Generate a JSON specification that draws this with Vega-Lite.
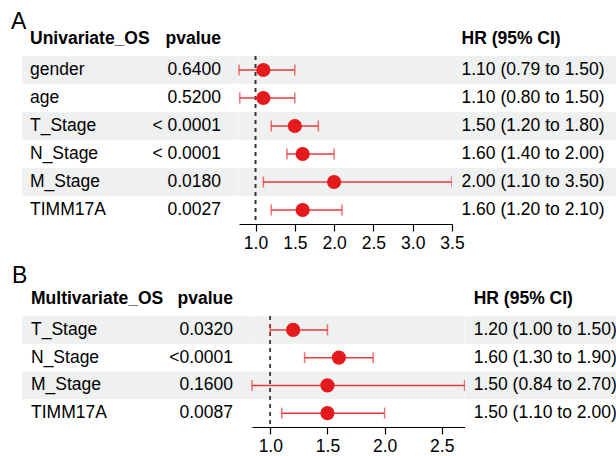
{
  "$schema": "https://vega.github.io/schema/vega-lite/v6.json",
  "padding": {"left": 11, "top": 10, "right": 0, "bottom": 0},
  "background": "white",
  "config": {
    "view": {"stroke": null},
    "font": "Liberation Sans",
    "title": {"color": "black", "fontSize": 17.5, "fontWeight": "bold"}
  },
  "datasets": {
    "uni": [
      {"var": "gender", "p": "0.6400", "hr": 1.1, "low": 0.79, "high": 1.5, "ci": "1.10 (0.79 to 1.50)"},
      {"var": "age", "p": "0.5200", "hr": 1.1, "low": 0.8, "high": 1.5, "ci": "1.10 (0.80 to 1.50)"},
      {"var": "T_Stage", "p": "< 0.0001", "hr": 1.5, "low": 1.2, "high": 1.8, "ci": "1.50 (1.20 to 1.80)"},
      {"var": "N_Stage", "p": "< 0.0001", "hr": 1.6, "low": 1.4, "high": 2.0, "ci": "1.60 (1.40 to 2.00)"},
      {"var": "M_Stage", "p": "0.0180", "hr": 2.0, "low": 1.1, "high": 3.5, "ci": "2.00 (1.10 to 3.50)"},
      {"var": "TIMM17A", "p": "0.0027", "hr": 1.6, "low": 1.2, "high": 2.1, "ci": "1.60 (1.20 to 2.10)"}
    ],
    "multi": [
      {"var": "T_Stage", "p": "0.0320", "hr": 1.2, "low": 1.0, "high": 1.5, "ci": "1.20 (1.00 to 1.50)"},
      {"var": "N_Stage", "p": "<0.0001", "hr": 1.6, "low": 1.3, "high": 1.9, "ci": "1.60 (1.30 to 1.90)"},
      {"var": "M_Stage", "p": "0.1600", "hr": 1.5, "low": 0.84, "high": 2.7, "ci": "1.50 (0.84 to 2.70)"},
      {"var": "TIMM17A", "p": "0.0087", "hr": 1.5, "low": 1.1, "high": 2.0, "ci": "1.50 (1.10 to 2.00)"}
    ]
  },
  "vconcat": [
    {
      "title": {"text": "A", "anchor": "start", "fontSize": 23, "fontWeight": "normal", "dx": -11, "offset": -4},
      "bounds": "flush",
      "spacing": 0,
      "hconcat": [
        {
          "width": 110, "height": 168,
          "title": {"text": "Univariate_OS", "anchor": "start", "dx": 8, "offset": 9},
          "data": {"name": "uni"},
          "layer": [
            {"transform": [{"filter": {"field": "var", "oneOf": ["gender", "T_Stage", "M_Stage"]}}],
             "mark": {"type": "rect", "color": "#EFF0F0"},
             "encoding": {"y": {"field": "var", "type": "nominal", "axis": null, "scale": {"type": "band", "paddingInner": 0, "paddingOuter": 0, "domain": ["gender", "age", "T_Stage", "N_Stage", "M_Stage", "TIMM17A"]}}, "x": {"value": 0}, "x2": {"value": "width"}}},
            {"mark": {"type": "text", "align": "left", "dx": 8, "fontSize": 17.5, "color": "black"},
             "encoding": {"y": {"field": "var", "type": "nominal"}, "x": {"value": 0}, "text": {"field": "var"}}}
          ]
        },
        {
          "width": 106.5, "height": 168,
          "title": {"text": "pvalue", "anchor": "end", "dx": -17.5, "offset": 9},
          "data": {"name": "uni"},
          "layer": [
            {"transform": [{"filter": {"field": "var", "oneOf": ["gender", "T_Stage", "M_Stage"]}}],
             "mark": {"type": "rect", "color": "#EFF0F0"},
             "encoding": {"y": {"field": "var", "type": "nominal", "axis": null, "scale": {"type": "band", "paddingInner": 0, "paddingOuter": 0, "domain": ["gender", "age", "T_Stage", "N_Stage", "M_Stage", "TIMM17A"]}}, "x": {"value": 0}, "x2": {"value": "width"}}},
            {"mark": {"type": "text", "align": "right", "dx": -17.5, "fontSize": 17.5, "color": "black"},
             "encoding": {"y": {"field": "var", "type": "nominal"}, "x": {"value": "width"}, "text": {"field": "p"}}}
          ]
        },
        {
          "width": 213, "height": 168,
          "data": {"name": "uni"},
          "layer": [
            {"transform": [{"filter": {"field": "var", "oneOf": ["gender", "T_Stage", "M_Stage"]}}],
             "mark": {"type": "rect", "color": "#EFF0F0"},
             "encoding": {"y": {"field": "var", "type": "nominal", "axis": null, "scale": {"type": "band", "paddingInner": 0, "paddingOuter": 0, "domain": ["gender", "age", "T_Stage", "N_Stage", "M_Stage", "TIMM17A"]}}, "x": {"value": 0}, "x2": {"value": "width"}}},
            {"mark": {"type": "rule", "strokeDash": [4, 4], "color": "#333333", "strokeWidth": 1.2},
             "encoding": {"x": {"datum": 1, "type": "quantitative", "scale": {"domain": [0.79, 3.5], "nice": false, "zero": false},
               "axis": {"values": [1, 1.5, 2, 2.5, 3, 3.5], "format": ".1f", "title": null, "grid": false, "labelFontSize": 17.5, "labelColor": "black", "tickColor": "black", "domainColor": "black", "tickSize": 7, "labelPadding": 3, "domainWidth": 1.2, "tickWidth": 1.2, "labelFlush": false}}}},
            {"mark": {"type": "rule", "color": "#E8383D", "strokeWidth": 1.5},
             "encoding": {"y": {"field": "var", "type": "nominal"}, "x": {"field": "low", "type": "quantitative"}, "x2": {"field": "high"}}},
            {"mark": {"type": "tick", "color": "#E8383D", "thickness": 1.5, "size": 11},
             "encoding": {"y": {"field": "var", "type": "nominal"}, "x": {"field": "low", "type": "quantitative"}}},
            {"mark": {"type": "tick", "color": "#E8383D", "thickness": 1.5, "size": 11},
             "encoding": {"y": {"field": "var", "type": "nominal"}, "x": {"field": "high", "type": "quantitative"}}},
            {"mark": {"type": "circle", "color": "#E41A1C", "opacity": 1, "size": 200},
             "encoding": {"y": {"field": "var", "type": "nominal"}, "x": {"field": "hr", "type": "quantitative"}}}
          ]
        },
        {
          "width": 164.5, "height": 168,
          "title": {"text": "HR (95% CI)", "anchor": "start", "dx": 9.5, "offset": 9},
          "data": {"name": "uni"},
          "layer": [
            {"transform": [{"filter": {"field": "var", "oneOf": ["gender", "T_Stage", "M_Stage"]}}],
             "mark": {"type": "rect", "color": "#EFF0F0"},
             "encoding": {"y": {"field": "var", "type": "nominal", "axis": null, "scale": {"type": "band", "paddingInner": 0, "paddingOuter": 0, "domain": ["gender", "age", "T_Stage", "N_Stage", "M_Stage", "TIMM17A"]}}, "x": {"value": 0}, "x2": {"value": "width"}}},
            {"mark": {"type": "text", "align": "left", "dx": 9.5, "fontSize": 17.5, "color": "black"},
             "encoding": {"y": {"field": "var", "type": "nominal"}, "x": {"value": 0}, "text": {"field": "ci"}}}
          ]
        }
      ]
    },
    {
      "title": {"text": "B", "anchor": "start", "fontSize": 23, "fontWeight": "normal", "dx": -10, "offset": 2},
      "bounds": "flush",
      "spacing": 0,
      "hconcat": [
        {
          "width": 120, "height": 111,
          "title": {"text": "Multivariate_OS", "anchor": "start", "dx": 9, "offset": 9},
          "data": {"name": "multi"},
          "layer": [
            {"transform": [{"filter": {"field": "var", "oneOf": ["T_Stage", "M_Stage"]}}],
             "mark": {"type": "rect", "color": "#EFF0F0"},
             "encoding": {"y": {"field": "var", "type": "nominal", "axis": null, "scale": {"type": "band", "paddingInner": 0, "paddingOuter": 0, "domain": ["T_Stage", "N_Stage", "M_Stage", "TIMM17A"]}}, "x": {"value": 0}, "x2": {"value": "width"}}},
            {"mark": {"type": "text", "align": "left", "dx": 9, "fontSize": 17.5, "color": "black"},
             "encoding": {"y": {"field": "var", "type": "nominal"}, "x": {"value": 0}, "text": {"field": "var"}}}
          ]
        },
        {
          "width": 109.7, "height": 111,
          "title": {"text": "pvalue", "anchor": "end", "dx": -18.7, "offset": 9},
          "data": {"name": "multi"},
          "layer": [
            {"transform": [{"filter": {"field": "var", "oneOf": ["T_Stage", "M_Stage"]}}],
             "mark": {"type": "rect", "color": "#EFF0F0"},
             "encoding": {"y": {"field": "var", "type": "nominal", "axis": null, "scale": {"type": "band", "paddingInner": 0, "paddingOuter": 0, "domain": ["T_Stage", "N_Stage", "M_Stage", "TIMM17A"]}}, "x": {"value": 0}, "x2": {"value": "width"}}},
            {"mark": {"type": "text", "align": "right", "dx": -18.7, "fontSize": 17.5, "color": "black"},
             "encoding": {"y": {"field": "var", "type": "nominal"}, "x": {"value": "width"}, "text": {"field": "p"}}}
          ]
        },
        {
          "width": 212.6, "height": 111,
          "data": {"name": "multi"},
          "layer": [
            {"transform": [{"filter": {"field": "var", "oneOf": ["T_Stage", "M_Stage"]}}],
             "mark": {"type": "rect", "color": "#EFF0F0"},
             "encoding": {"y": {"field": "var", "type": "nominal", "axis": null, "scale": {"type": "band", "paddingInner": 0, "paddingOuter": 0, "domain": ["T_Stage", "N_Stage", "M_Stage", "TIMM17A"]}}, "x": {"value": 0}, "x2": {"value": "width"}}},
            {"mark": {"type": "rule", "strokeDash": [4, 4], "color": "#333333", "strokeWidth": 1.2},
             "encoding": {"x": {"datum": 1, "type": "quantitative", "scale": {"domain": [0.84, 2.7], "nice": false, "zero": false},
               "axis": {"values": [1, 1.5, 2, 2.5], "format": ".1f", "title": null, "grid": false, "labelFontSize": 17.5, "labelColor": "black", "tickColor": "black", "domainColor": "black", "tickSize": 7, "labelPadding": 3, "domainWidth": 1.2, "tickWidth": 1.2, "labelFlush": false}}}},
            {"mark": {"type": "rule", "color": "#E8383D", "strokeWidth": 1.5},
             "encoding": {"y": {"field": "var", "type": "nominal"}, "x": {"field": "low", "type": "quantitative"}, "x2": {"field": "high"}}},
            {"mark": {"type": "tick", "color": "#E8383D", "thickness": 1.5, "size": 11},
             "encoding": {"y": {"field": "var", "type": "nominal"}, "x": {"field": "low", "type": "quantitative"}}},
            {"mark": {"type": "tick", "color": "#E8383D", "thickness": 1.5, "size": 11},
             "encoding": {"y": {"field": "var", "type": "nominal"}, "x": {"field": "high", "type": "quantitative"}}},
            {"mark": {"type": "circle", "color": "#E41A1C", "opacity": 1, "size": 200},
             "encoding": {"y": {"field": "var", "type": "nominal"}, "x": {"field": "hr", "type": "quantitative"}}}
          ]
        },
        {
          "width": 152, "height": 111,
          "title": {"text": "HR (95% CI)", "anchor": "start", "dx": 8.7, "offset": 9},
          "data": {"name": "multi"},
          "layer": [
            {"transform": [{"filter": {"field": "var", "oneOf": ["T_Stage", "M_Stage"]}}],
             "mark": {"type": "rect", "color": "#EFF0F0"},
             "encoding": {"y": {"field": "var", "type": "nominal", "axis": null, "scale": {"type": "band", "paddingInner": 0, "paddingOuter": 0, "domain": ["T_Stage", "N_Stage", "M_Stage", "TIMM17A"]}}, "x": {"value": 0}, "x2": {"value": "width"}}},
            {"mark": {"type": "text", "align": "left", "dx": 8.7, "fontSize": 17.5, "color": "black"},
             "encoding": {"y": {"field": "var", "type": "nominal"}, "x": {"value": 0}, "text": {"field": "ci"}}}
          ]
        }
      ]
    }
  ],
  "spacing": 12
}
